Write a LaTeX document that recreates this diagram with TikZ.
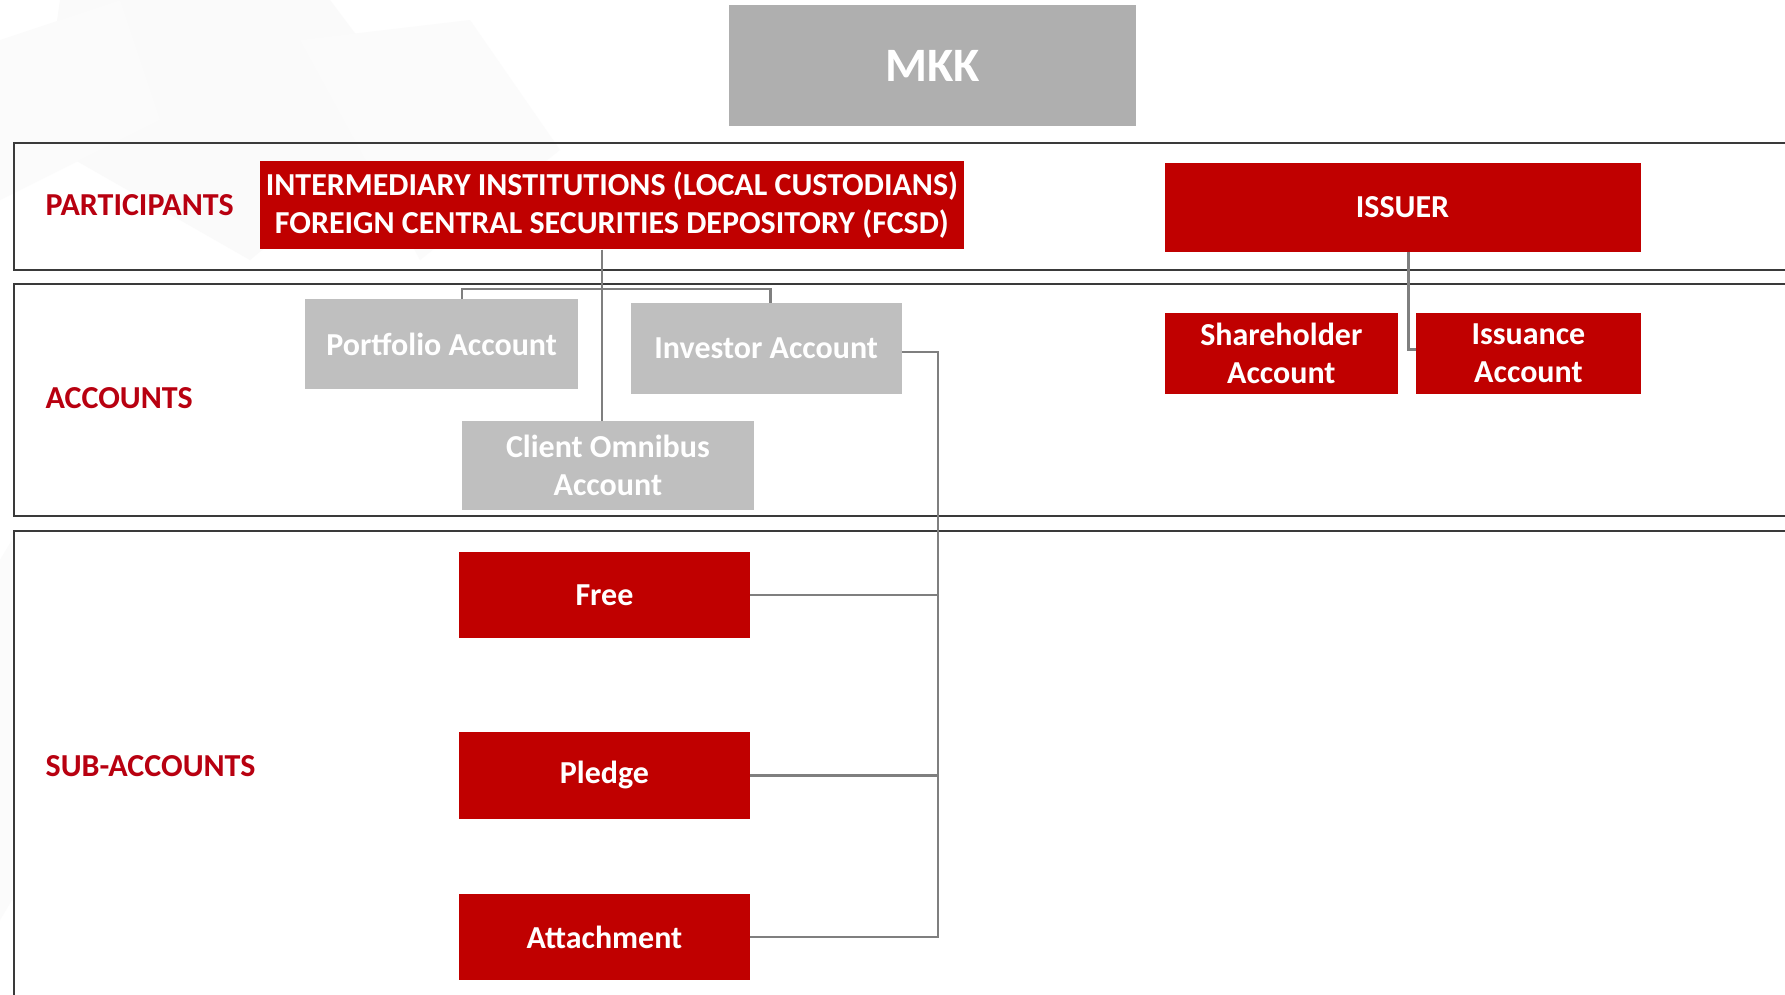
\documentclass[tikz,border=0pt]{standalone}
\usepackage{fontspec}
\setmainfont{Carlito}
\definecolor{mkred}{HTML}{C00000}
\definecolor{lblred}{HTML}{B80010}
\definecolor{mkgray}{HTML}{AFAFAF}
\definecolor{acgray}{HTML}{BFBFBF}
\definecolor{lnk}{HTML}{7F7F7F}
\definecolor{bandline}{HTML}{3A3A3A}
\begin{document}
\begin{tikzpicture}[x=1pt,y=-1pt,
  redbox/.style={fill=mkred,text=white,inner sep=0pt,align=center,font=\fontsize{32}{38}\selectfont\bfseries},
  graybox/.style={fill=acgray,text=white,inner sep=0pt,align=center,font=\fontsize{32}{38}\selectfont\bfseries},
  bandlabel/.style={anchor=west,text=lblred,inner sep=0pt,font=\fontsize{32}{38}\selectfont\bfseries},
  band/.style={draw=bandline,line width=2pt},
  link/.style={draw=lnk,line width=2.5pt}]
\useasboundingbox (0,0) rectangle (1785,994);
\fill[white] (0,0) rectangle (1785,994);
% faint background watermark
\fill[gray!4] (60,0) -- (330,0) -- (420,120) -- (250,260) -- (40,140) -- cycle;
\fill[gray!3] (300,40) -- (470,20) -- (560,150) -- (420,260) -- cycle;
\fill[gray!3] (0,40) -- (120,0) -- (160,120) -- (0,200) -- cycle;
\fill[gray!3] (0,560) -- (12,540) -- (12,900) -- (0,920) -- cycle;
% bands
\draw[band] (13.7,143.4) rectangle (1800,269.8);
\draw[band] (13.7,283.5) rectangle (1800,515.7);
\draw[band] (13.7,530.5) rectangle (1800,1010);
% nodes
\node[fill=mkgray,text=white,inner sep=0pt,minimum width=407pt,minimum height=121pt,font=\fontsize{48}{52}\selectfont\bfseries] (mkk) at (932.5,65.5) {MKK};
\node[bandlabel] (lp) at (45.5,205) {PARTICIPANTS};
\node[bandlabel] (la) at (45.5,398.4) {ACCOUNTS};
\node[bandlabel] (ls) at (45.5,766) {SUB-ACCOUNTS};
\node[redbox,minimum width=704.7pt,minimum height=88.8pt] (inter) at (611.9,204.9) {INTERMEDIARY INSTITUTIONS (LOCAL CUSTODIANS)\\FOREIGN CENTRAL SECURITIES DEPOSITORY (FCSD)};
\node[redbox,minimum width=476pt,minimum height=88.8pt] (issuer) at (1402.5,207.2) {ISSUER};
\node[graybox,minimum width=273.3pt,minimum height=90pt] (port) at (441.6,344.4) {Portfolio Account};
\node[graybox,minimum width=271pt,minimum height=91pt] (inv) at (766.2,348.4) {Investor Account};
\node[graybox,minimum width=291.4pt,minimum height=88.8pt] (omni) at (607.9,465.6) {Client Omnibus\\Account};
\node[redbox,minimum width=233.4pt,minimum height=81pt] (share) at (1281.3,353.5) {Shareholder\\Account};
\node[redbox,minimum width=224.3pt,minimum height=81pt] (iss) at (1528.4,353.5) {Issuance\\Account};
\node[redbox,minimum width=291.4pt,minimum height=85.4pt] (free) at (604.5,594.8) {Free};
\node[redbox,minimum width=291.4pt,minimum height=86.5pt] (pledge) at (604.5,775.3) {Pledge};
\node[redbox,minimum width=291.4pt,minimum height=86.6pt] (attach) at (604.5,936.9) {Attachment};
% connectors
\coordinate (jt) at (602,289.2);
\coordinate (bl) at (462,289.2);
\coordinate (br) at (770.7,289.2);
\draw[link] (inter.south -| jt) -- (omni.north -| jt);
\draw[link] (bl |- port.north) -- (bl) -- (br) -- (br |- inv.north);
\coordinate (rx) at (938,352);
\draw[link] (inv.east |- rx) -- (rx) -- (attach.east -| rx) -- (attach.east);
\draw[link] (free.east) -- (free.east -| rx);
\draw[link] (pledge.east) -- (pledge.east -| rx);
\coordinate (ix) at (1408.3,349.5);
\draw[link] (issuer.south -| ix) -- (ix) -- (iss.west |- ix);
\end{tikzpicture}
\end{document}
